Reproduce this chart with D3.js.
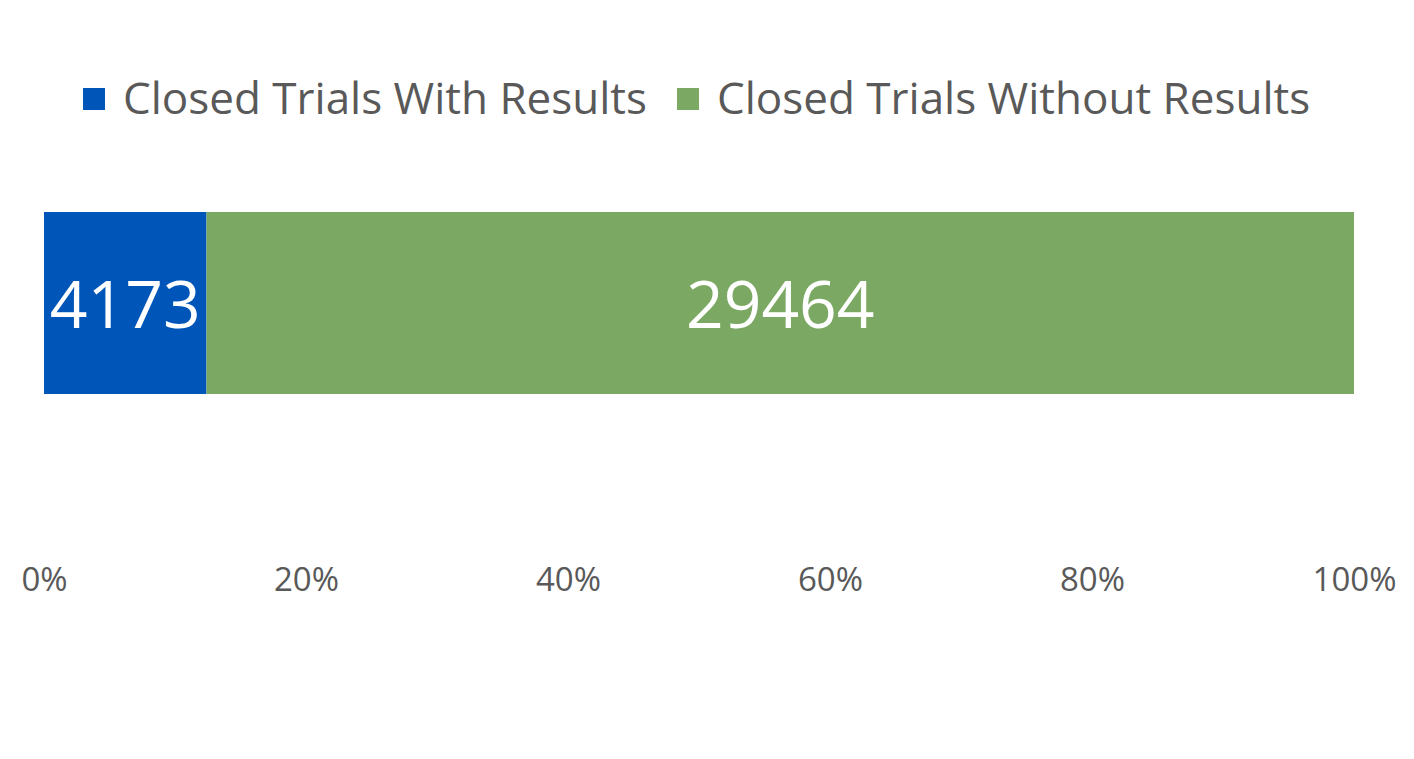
<!DOCTYPE html>
<html><head><meta charset="utf-8">
<script src="https://cdn.jsdelivr.net/npm/d3@7"></script>
<style>body{margin:0;background:#fff}svg{display:block}text{font-family:"Open Sans","Noto Sans",sans-serif}</style>
</head><body>
<svg id="c" width="1414" height="759"></svg>
<script>
const categories = ["Trials"];
const seriesNames = ["Closed Trials With Results", "Closed Trials Without Results"];
const seriesValues = [[4173], [29464]];
const seriesColors = ["#0055B8", "#7BA862"];
const tickValues = [0, 0.2, 0.4, 0.6, 0.8, 1.0];

const svg = d3.select("#c");
const x = d3.scaleLinear().domain([0, 1]).range([44, 1354]);

const total = seriesValues.reduce((s, v) => s + v[0], 0);
let acc = 0;
const segs = seriesValues.map((v, i) => {
  const s = {name: seriesNames[i], value: v[0], x0: acc / total, x1: (acc + v[0]) / total, color: seriesColors[i]};
  acc += v[0];
  return s;
});

const barY = 212, barH = 182;
svg.selectAll("rect.bar").data(segs).enter().append("rect")
  .attr("class", "bar")
  .attr("x", d => x(d.x0)).attr("width", d => x(d.x1) - x(d.x0))
  .attr("y", barY).attr("height", barH)
  .attr("fill", d => d.color);

svg.selectAll("text.lbl").data(segs).enter().append("text")
  .attr("class", "lbl")
  .attr("x", d => (x(d.x0) + x(d.x1)) / 2)
  .attr("y", 328)
  .attr("text-anchor", "middle")
  .attr("fill", "#fff")
  .style("font-size", "66px")
  .text(d => d.value);

const axis = d3.axisBottom(x).tickValues(tickValues).tickFormat(d3.format(".0%")).tickSize(0).tickPadding(0);
const ag = svg.append("g").attr("transform", "translate(0,591)").call(axis);
ag.select(".domain").remove();
ag.selectAll("text").attr("fill", "#595959").style("font-size", "33px").attr("dy", "0").attr("y", 0)
  .style("font-family", '"Open Sans","Noto Sans",sans-serif');

// legend
const leg = svg.append("g");
const legX = [83, 677];
seriesNames.forEach((n, i) => {
  leg.append("rect").attr("x", legX[i]).attr("y", 88).attr("width", 22).attr("height", 22).attr("fill", seriesColors[i]);
  leg.append("text").attr("x", legX[i] + 40).attr("y", 114).attr("fill", "#595959")
    .style("font-size", "44px").text(n);
});
</script>
</body></html>
